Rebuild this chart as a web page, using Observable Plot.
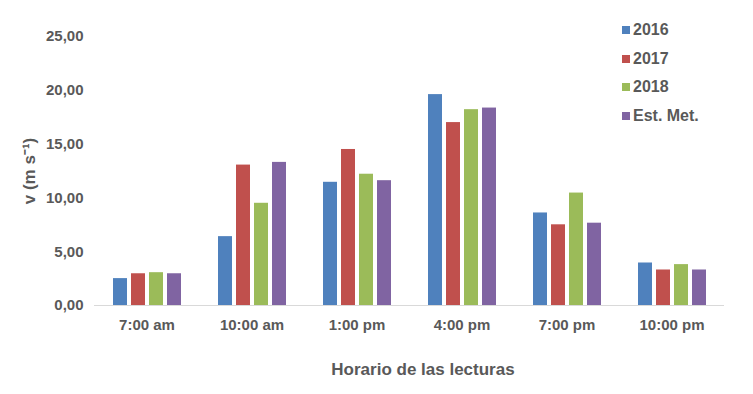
<!DOCTYPE html>
<html>
<head>
<meta charset="utf-8">
<script src="https://cdn.jsdelivr.net/npm/d3@7"></script>
<script src="https://cdn.jsdelivr.net/npm/@observablehq/plot@0.6"></script>
<style>
  body { margin: 0; background: #fff; }
  #wrap { position: relative; width: 753px; height: 394px; font-family: "Liberation Sans", Arial, sans-serif; }
  #legend { position: absolute; left: 622px; top: 16px; font-weight: bold; font-size: 16px; color: #595959; }
  #legend .row { display: flex; align-items: center; height: 28.5px; }
  #legend .sw { width: 8px; height: 8px; margin-right: 3px; }
  #xlabel { position: absolute; left: 0; width: 846px; text-align: center; top: 360px; font-weight: bold; font-size: 17px; color: #595959; }
</style>
</head>
<body>
<div id="wrap"></div>
<script>
const horarios = ["7:00 am", "10:00 am", "1:00 pm", "4:00 pm", "7:00 pm", "10:00 pm"];
const series = ["2016", "2017", "2018", "Est. Met."];
const v2016 = [2.5, 6.4, 11.45, 19.6, 8.6, 3.95];
const v2017 = [2.95, 13.05, 14.5, 17.0, 7.5, 3.3];
const v2018 = [3.05, 9.5, 12.2, 18.2, 10.45, 3.8];
const vEst  = [2.95, 13.3, 11.6, 18.35, 7.65, 3.3];
const colors = ["#4F81BD", "#C0504D", "#9BBB59", "#8064A2"];
const yTicks = [0, 5, 10, 15, 20, 25];
const yLabel = "v (m s\u207B\u00B9)";
const xLabel = "Horario de las lecturas";

const valuesBySeries = [v2016, v2017, v2018, vEst];
const data = [];
horarios.forEach((h, i) => {
  series.forEach((s, j) => data.push({h, s, v: valuesBySeries[j][i]}));
});

const fmt = d => d3.format(".2f")(d).replace(".", ",");

const chart = Plot.plot({
  width: 753,
  height: 394,
  marginLeft: 91,
  marginRight: 27,
  marginTop: 36,
  marginBottom: 89,
  style: {fontFamily: "'Liberation Sans', Arial, sans-serif", fontWeight: "bold", fontSize: "15px", color: "#595959", background: "#fff"},
  fx: {domain: horarios, paddingInner: 0, paddingOuter: 0, label: null},
  x: {domain: series, paddingInner: 0.25, paddingOuter: 0.9, axis: null},
  y: {domain: [0, 25], ticks: yTicks, label: null},
  color: {domain: series, range: colors},
  marks: [
    Plot.axisY({ticks: yTicks, tickSize: 0, tickPadding: 11, tickFormat: fmt, fill: "#595959", label: null}),
    Plot.axisY({ticks: [], tickSize: 0, fill: "#595959", fontSize: 17,
      label: yLabel, labelAnchor: "center", labelArrow: "none", labelOffset: 72}),
    Plot.axisFx({anchor: "bottom", tickSize: 0, tickPadding: 14, label: null, fill: "#595959"}),
    Plot.barY(data, {fx: "h", x: "s", y: "v", fill: "s"}),
    Plot.ruleY([0], {stroke: "#D9D9D9", strokeWidth: 1.2})
  ]
});

const wrap = document.getElementById("wrap");
wrap.appendChild(chart);

const legend = document.createElement("div");
legend.id = "legend";
series.forEach((s, j) => {
  const row = document.createElement("div");
  row.className = "row";
  const sw = document.createElement("div");
  sw.className = "sw";
  sw.style.background = colors[j];
  const t = document.createElement("span");
  t.textContent = s;
  row.appendChild(sw);
  row.appendChild(t);
  legend.appendChild(row);
});
wrap.appendChild(legend);

const xl = document.createElement("div");
xl.id = "xlabel";
xl.textContent = xLabel;
wrap.appendChild(xl);
</script>
</body>
</html>
